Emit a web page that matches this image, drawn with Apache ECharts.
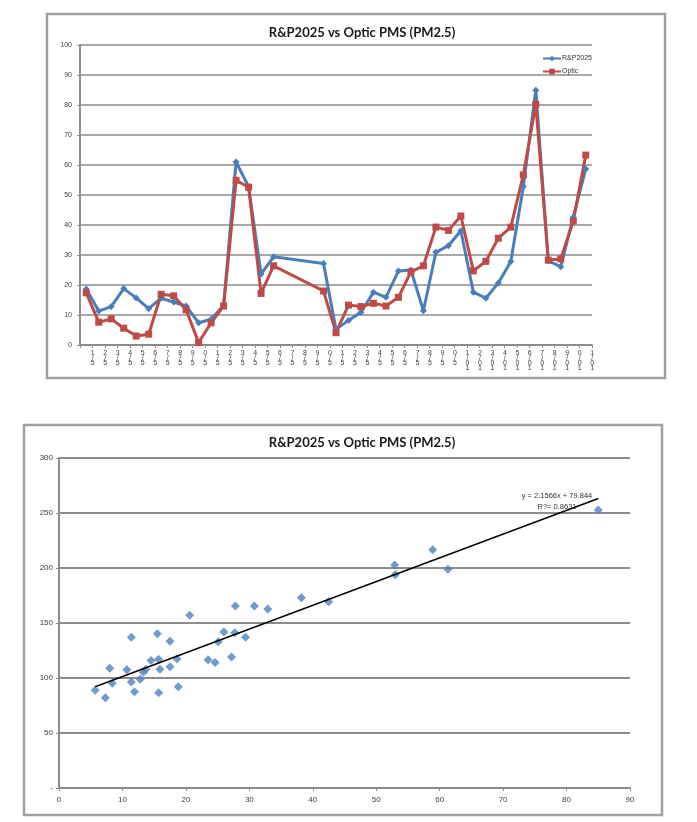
<!DOCTYPE html>
<html>
<head>
<meta charset="utf-8">
<script src="https://cdn.jsdelivr.net/npm/echarts@6/dist/echarts.min.js"></script>
<style>
  html, body { margin: 0; padding: 0; background: #ffffff; }
  #chart { width: 697px; height: 822px; }
</style>
</head>
<body>
<div id="chart"></div>
<script>
// ---------- Top chart data ----------
const categories = [
  '1/5','2/5','3/5','4/5','5/5','6/5','7/5','8/5','9/5','0/5',
  '1/5','2/5','3/5','4/5','5/5','6/5','7/5','8/5','9/5','0/5',
  '1/5','2/5','3/5','4/5','5/5','6/5','7/5','8/5','9/5','0/5',
  '1/01','2/01','3/01','4/01','5/01','6/01','7/01','8/01','9/01','0/01','1/01'
];
const rp2025 = [18.7, 11.3, 12.8, 18.8, 15.7, 12.1, 15.6, 14.3, 13.0, 7.4,
  8.6, 13.2, 61.0, 52.8, 23.7, 29.4, null, null, null, 27.2,
  5.2, 8.2, 10.9, 17.6, 15.9, 24.7, 25.0, 11.4, 30.9, 33.1,
  38.1, 17.6, 15.6, 20.7, 27.8, 52.8, 84.9, 28.0, 26.1, 42.6, 58.7];
const optic = [17.4, 7.6, 8.7, 5.6, 3.0, 3.6, 16.9, 16.4, 11.7, 0.8,
  7.4, 13.0, 54.9, 52.6, 17.2, 26.4, null, null, null, 18.0,
  4.1, 13.3, 12.8, 13.9, 13.0, 15.9, 24.4, 26.4, 39.3, 38.2,
  43.0, 24.7, 27.9, 35.6, 39.3, 56.7, 80.2, 28.3, 28.7, 41.3, 63.3];

// ---------- Bottom chart data ----------
const scatterX = [5.7, 7.3, 8.0, 8.4, 10.7, 11.4, 11.4, 11.9, 12.8, 13.3,
  13.7, 14.5, 15.5, 15.7, 15.9, 15.7, 17.5, 17.5, 18.6, 18.8,
  20.6, 23.5, 24.6, 25.1, 26.0, 27.2, 27.8, 27.7, 29.4, 30.8,
  32.9, 38.2, 42.5, 52.9, 53.0, 58.9, 61.3, 85.0];
const scatterY = [88.8, 82.1, 108.8, 95.2, 107.6, 137.0, 96.4, 87.6, 98.8, 105.2,
  107.9, 115.8, 140.3, 117.0, 107.9, 86.7, 133.3, 110.3, 117.6, 92.1,
  157.0, 116.7, 114.2, 133.0, 141.8, 119.1, 165.5, 141.2, 137.0, 165.5,
  162.7, 173.0, 169.4, 202.7, 193.9, 216.7, 198.8, 252.7];
const trendX = [5.7, 85.0];
const trendY = [92.1, 263.2];
const trendText1 = 'y = 2.1566x + 79.844';
const trendText2 = 'R?= 0.8631';

const titleText = 'R&P2025 vs Optic PMS (PM2.5)';
const topYTicks = { min: 0, max: 100, interval: 10 };
const botYTicks = { min: 0, max: 300, interval: 50 };
const botXTicks = { min: 0, max: 90, interval: 10 };

const BLUE = '#4a7ebb';
const RED = '#be4b48';
const GRID = '#8c8c8c';
const AXIS = '#8c8c8c';
const TXT = '#404040';
const FONT = 'Liberation Sans, DejaVu Sans, sans-serif';

const chart = echarts.init(document.getElementById('chart'), null, { renderer: 'canvas' });

const option = {
  backgroundColor: '#ffffff',
  animation: false,
  textStyle: { fontFamily: FONT },
  graphic: [
    { type: 'rect', shape: { x: 47, y: 14, width: 618, height: 364 }, style: { fill: 'none', stroke: '#a0a0a0', lineWidth: 2.5 }, z: -1 },
    { type: 'rect', shape: { x: 24, y: 425, width: 638, height: 390 }, style: { fill: 'none', stroke: '#a0a0a0', lineWidth: 2.5 }, z: -1 },
    { type: 'text', x: 557, y: 490, style: { text: trendText1 + '\n' + trendText2, align: 'center', verticalAlign: 'top', fill: '#333', font: '7.5px ' + FONT, lineHeight: 11 } }
  ],
  title: [
    { text: titleText, left: 357, top: 21, textAlign: 'center',
      textStyle: { fontFamily: 'Lato, Open Sans, sans-serif', fontWeight: 'bold', fontSize: 13, color: '#1a1a1a' } },
    { text: titleText, left: 357, top: 431, textAlign: 'center',
      textStyle: { fontFamily: 'Lato, Open Sans, sans-serif', fontWeight: 'bold', fontSize: 13, color: '#1a1a1a' } }
  ],
  legend: {
    orient: 'vertical', left: 537, top: 50, itemGap: 6, itemWidth: 18, itemHeight: 7,
    data: ['R&P2025', 'Optic'],
    textStyle: { fontSize: 7, color: '#333', padding: [0, 0, 0, -4] }
  },
  grid: [
    { left: 80, top: 45, width: 512, height: 300 },
    { left: 59, top: 458, width: 571, height: 330 }
  ],
  xAxis: [
    {
      type: 'category', gridIndex: 0, data: categories, boundaryGap: true,
      axisLine: { lineStyle: { color: AXIS, width: 2 } },
      axisTick: { show: true, length: 3, lineStyle: { color: AXIS } },
      axisLabel: {
        interval: 0, fontSize: 7, lineHeight: 5, color: TXT, margin: 6,
        padding: [0, 0, 0, 13],
        formatter: v => v.split('').join('\n')
      },
      splitLine: { show: false }
    },
    {
      type: 'value', gridIndex: 1, min: botXTicks.min, max: botXTicks.max, interval: botXTicks.interval,
      axisLine: { show: true, lineStyle: { color: AXIS, width: 2 } },
      axisTick: { show: true, length: 3, lineStyle: { color: AXIS } },
      axisLabel: { fontSize: 8, color: TXT, margin: 8 },
      splitLine: { show: false }
    }
  ],
  yAxis: [
    {
      type: 'value', gridIndex: 0, min: topYTicks.min, max: topYTicks.max, interval: topYTicks.interval,
      axisLine: { show: true, lineStyle: { color: AXIS, width: 2 } },
      axisTick: { show: true, length: 3, lineStyle: { color: AXIS } },
      axisLabel: { fontSize: 7, color: TXT, margin: 8 },
      splitLine: { show: true, lineStyle: { color: GRID, width: 1.6 } }
    },
    {
      type: 'value', gridIndex: 1, min: botYTicks.min, max: botYTicks.max, interval: botYTicks.interval,
      axisLine: { show: true, lineStyle: { color: AXIS, width: 2 } },
      axisTick: { show: true, length: 3, lineStyle: { color: AXIS } },
      axisLabel: { fontSize: 8, color: TXT, margin: 6, formatter: v => (v === 0 ? '-' : String(v)) },
      splitLine: { show: true, lineStyle: { color: GRID, width: 2 } }
    }
  ],
  series: [
    {
      name: 'R&P2025', type: 'line', xAxisIndex: 0, yAxisIndex: 0, data: rp2025,
      connectNulls: true, symbol: 'diamond', symbolSize: 7, showAllSymbol: true,
      lineStyle: { color: BLUE, width: 3 }, itemStyle: { color: BLUE }
    },
    {
      name: 'Optic', type: 'line', xAxisIndex: 0, yAxisIndex: 0, data: optic,
      connectNulls: true, symbol: 'rect', symbolSize: 7, showAllSymbol: true,
      lineStyle: { color: RED, width: 3 }, itemStyle: { color: RED }
    },
    {
      name: 'scatter', type: 'scatter', xAxisIndex: 1, yAxisIndex: 1,
      data: scatterX.map((x, i) => [x, scatterY[i]]),
      symbol: 'diamond', symbolSize: 9, itemStyle: { color: '#4f81bd' }
    },
    {
      name: 'trend', type: 'line', xAxisIndex: 1, yAxisIndex: 1,
      data: trendX.map((x, i) => [x, trendY[i]]),
      symbol: 'none', lineStyle: { color: '#000000', width: 1.5 }, z: 3
    }
  ]
};
chart.setOption(option);
</script>
</body>
</html>
